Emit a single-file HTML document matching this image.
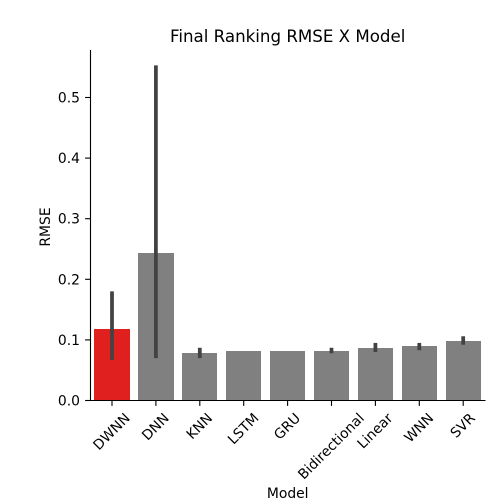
<!DOCTYPE html>
<html>
<head>
<meta charset="utf-8">
<style>
html,body{margin:0;padding:0;background:#fff;}
svg{display:block;}
text{font-family:"DejaVu Sans","Liberation Sans",sans-serif;fill:#000;}
</style>
</head>
<body>
<svg id="chart" width="500" height="500" viewBox="0 0 500 500" xmlns="http://www.w3.org/2000/svg">
<rect width="500" height="500" fill="#fff"/>
<text x="287.7" y="42" font-size="16.67" text-anchor="middle">Final Ranking RMSE X Model</text>
<text x="287.7" y="498" font-size="13.89" text-anchor="middle">Model</text>
<text transform="translate(50 227) rotate(-90)" font-size="13.89" text-anchor="middle">RMSE</text>
<g id="bars"></g>
<g id="errs"></g>
<g id="xticks"></g>
<g id="yticks"></g>
<line x1="90.5" y1="50" x2="90.5" y2="401" stroke="#000" stroke-width="1.11"/>
<line x1="90" y1="400.5" x2="485.5" y2="400.5" stroke="#000" stroke-width="1.11"/>
</svg>
<script>
const categories = ["DWNN","DNN","KNN","LSTM","GRU","Bidirectional","Linear","WNN","SVR"];
const rmseValues = [0.118,0.243,0.078,0.082,0.082,0.082,0.087,0.090,0.098];
const errLow = [0.067,0.070,0.070,0.082,0.082,0.078,0.080,0.083,0.092];
const errHigh = [0.180,0.553,0.087,0.082,0.082,0.087,0.095,0.095,0.106];
const yTickValues = [0,0.1,0.2,0.3,0.4,0.5];
const yTickLabels = ["0.0","0.1","0.2","0.3","0.4","0.5"];
const highlightCategory = "DWNN";

const NS = "http://www.w3.org/2000/svg";
const xScale = i => 112 + i * 43.9;
const yScale = v => 400.5 - v * 606;
const barsG = document.getElementById("bars");
const errsG = document.getElementById("errs");
const xG = document.getElementById("xticks");
const yG = document.getElementById("yticks");

function mk(tag, attrs, parent) {
  const el = document.createElementNS(NS, tag);
  for (const k in attrs) el.setAttribute(k, attrs[k]);
  parent.appendChild(el);
  return el;
}

categories.forEach((c, i) => {
  const x = xScale(i);
  const left = Math.round(x - 17.6);
  const right = Math.round(x + 17.6);
  const top = Math.round(yScale(rmseValues[i]));
  const bar = mk("rect", {
    x: left, y: top, width: right - left,
    height: 400 - top,
    fill: c === highlightCategory ? "#e01f1f" : "#808080",
    "shape-rendering": "crispEdges"
  }, barsG);
  
  

  if (errHigh[i] > errLow[i]) {
    const err = mk("line", {
      x1: x, x2: x, y1: yScale(errLow[i]), y2: yScale(errHigh[i]),
      stroke: "#424242", "stroke-width": 3.75
    }, errsG);
    
    
  }

  const tick = mk("line", { x1: x, x2: x, y1: 401, y2: 405.9, stroke: "#000", "stroke-width": 1.11 }, xG);
  
  

  const label = mk("text", { "font-size": 13.89, "text-anchor": "middle", "dominant-baseline": "central" }, xG);
  label.textContent = c;
  
  
  const w = label.getComputedTextLength();
  const half = (w + 13) * Math.SQRT1_2 / 2;
  label.setAttribute("transform", "translate(" + x + " " + (411.5 + half) + ") rotate(-45)");
});

yTickValues.forEach((v, i) => {
  const y = yScale(v);
  const tick = mk("line", { x1: 85.1, x2: 90, y1: y, y2: y, stroke: "#000", "stroke-width": 1.11 }, yG);
  
  
  const label = mk("text", { x: 80, y: y + 5, "font-size": 13.89, "text-anchor": "end" }, yG);
  label.textContent = yTickLabels[i];
  
  
});
</script>
</body>
</html>
